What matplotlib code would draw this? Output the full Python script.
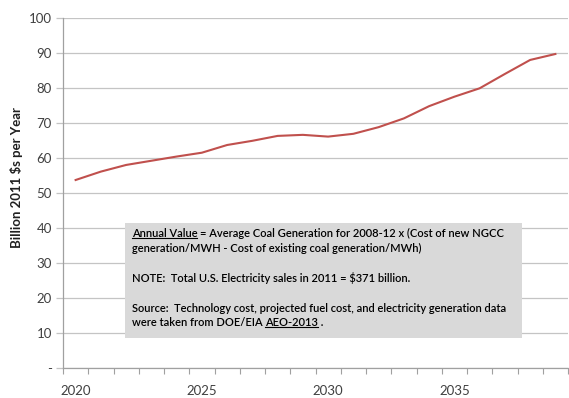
import matplotlib
matplotlib.use("Agg")
import matplotlib.pyplot as plt
from matplotlib.patches import Rectangle
from matplotlib.lines import Line2D
import numpy as np

years = list(range(2020, 2040))
values = [53.8, 56.2, 58.1, 59.3, 60.5, 61.6, 63.8, 65.0, 66.4, 66.7,
          66.2, 67.0, 68.9, 71.4, 74.9, 77.6, 80.0, 84.1, 88.1, 89.8]
y_ticks = [0, 10, 20, 30, 40, 50, 60, 70, 80, 90, 100]
y_ticklabels = ["-", "10", "20", "30", "40", "50", "60", "70", "80", "90", "100"]
x_labeled = [2020, 2025, 2030, 2035]

note_lines = [
    [("Annual Value ", True), ("= Average Coal Generation for 2008-12 x (Cost of new NGCC", False)],
    [("generation/MWH - Cost of existing coal generation/MWh)", False)],
    [],
    [("NOTE:  Total U.S. Electricity sales in 2011 = $371 billion.", False)],
    [],
    [("Source:  Technology cost, projected fuel cost, and electricity generation data", False)],
    [("were taken from DOE/EIA ", False), ("AEO-2013", True), (" .", False)],
]

W, H = 569, 398
plt.rcParams["font.family"] = ["Lato", "DejaVu Sans"]

fig = plt.figure(figsize=(W / 100, H / 100), dpi=100)
ax = fig.add_axes([63 / W, 1 - 368.3 / H, (568 - 63) / W, (368.3 - 18.3) / H])

x = np.arange(len(years))
ax.plot(x, values, color="#c0504d", lw=1.5, solid_joinstyle="round", zorder=3)

ax.set_xlim(-0.5, len(years) - 0.5)
ax.set_ylim(0, 100)
ax.set_yticks(y_ticks)
ax.set_yticklabels(y_ticklabels)
ax.grid(axis="y", color="#c4c4c4", lw=0.9)
ax.set_axisbelow(True)

# category axis: ticks at boundaries, labels centred on categories
ax.set_xticks(np.arange(len(years) + 1) - 0.5, minor=True)
ax.set_xticks([years.index(y) for y in x_labeled])
ax.set_xticklabels([str(y) for y in x_labeled])
ax.tick_params(axis="x", which="major", length=0, pad=12, labelsize=9.5, labelcolor="#404040")
ax.tick_params(axis="x", which="minor", length=4, color="#a0a0a0", width=0.8)
ax.tick_params(axis="y", length=5, color="#c4c4c4", width=0.9, pad=3, labelsize=9.5, labelcolor="#404040")

for side in ["top", "right"]:
    ax.spines[side].set_visible(False)
for side in ["left", "bottom"]:
    ax.spines[side].set_color("#a0a0a0")
    ax.spines[side].set_linewidth(0.9)

fig.text(17 / W, 1 - 178 / H, "Billion 2011 $s per Year", rotation=90,
         ha="center", va="center", fontsize=9.5, fontweight="bold", color="#202020")

# note box
fig.patches.append(Rectangle((125 / W, 1 - 338 / H), (522 - 125) / W, (338 - 222.7) / H,
                             transform=fig.transFigure, facecolor="#d9d9d9",
                             edgecolor="none", zorder=5))

fig.canvas.draw()
renderer = fig.canvas.get_renderer()
x0, y_first, step = 132, 233.5, 14.9
for i, pieces in enumerate(note_lines):
    cx = x0
    cy = y_first + i * step
    for txt, underline in pieces:
        t = fig.text(cx / W, 1 - cy / H, txt, ha="left", va="center",
                     fontsize=8.0, color="#000000", fontweight="semibold", zorder=6)
        bb = t.get_window_extent(renderer)
        if underline:
            uy = (bb.y0 + 1.5) / H
            fig.lines.append(Line2D([bb.x0 / W, (bb.x1 - (3 if txt.endswith(" ") else 0)) / W], [uy, uy],
                                    transform=fig.transFigure, color="#000000", lw=0.8, zorder=6))
        cx = bb.x1

fig.savefig("out.png", dpi=100)
